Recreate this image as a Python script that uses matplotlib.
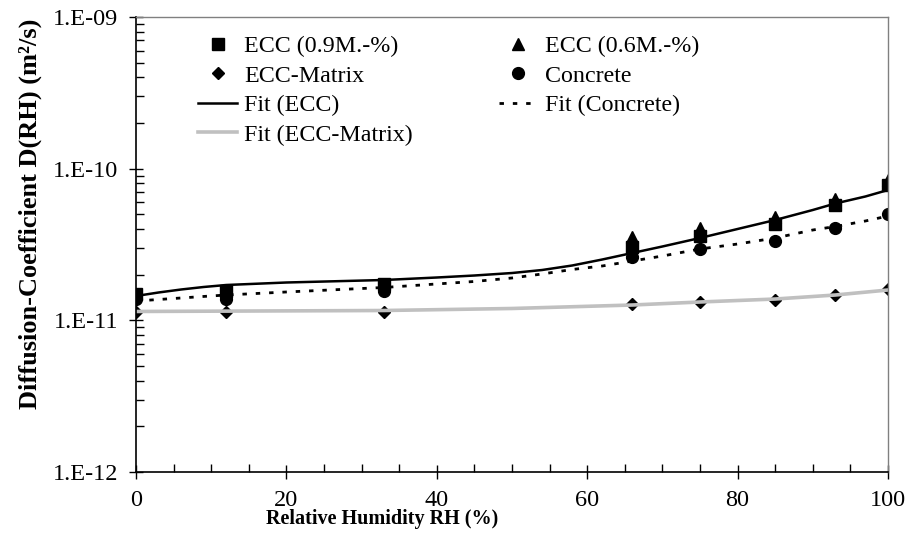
import numpy as np
import matplotlib
matplotlib.use('Agg')
import matplotlib.pyplot as plt
from matplotlib.ticker import FixedLocator, LogLocator, FuncFormatter, NullFormatter

plt.rcParams['font.family'] = ['Liberation Serif', 'DejaVu Serif']

# measured points
rh = [0, 12, 33, 66, 75, 85, 93, 100]
ecc09 = [1.50e-11, 1.56e-11, 1.745e-11, 3.05e-11, 3.6e-11, 4.3e-11, 5.76e-11, 7.8e-11]
rh_ecc06 = [66, 75, 85, 93, 100]
ecc06 = [3.55e-11, 4.06e-11, 4.8e-11, 6.3e-11, 8.4e-11]
matrix = [1.14e-11, 1.13e-11, 1.14e-11, 1.28e-11, 1.32e-11, 1.36e-11, 1.47e-11, 1.61e-11]
concrete = [1.38e-11, 1.39e-11, 1.57e-11, 2.62e-11, 2.95e-11, 3.33e-11, 4.06e-11, 5.0e-11]

# fit curves
rh_fit = [0, 3, 6, 9, 12, 20, 33, 40, 45, 50, 54, 58, 62, 66, 70, 75, 80, 85, 90, 93, 97, 100]
fit_ecc = [1.447e-11, 1.526e-11, 1.597e-11, 1.659e-11, 1.710e-11, 1.776e-11, 1.845e-11,
           1.916e-11, 1.975e-11, 2.051e-11, 2.147e-11, 2.299e-11, 2.518e-11, 2.78e-11,
           3.068e-11, 3.491e-11, 4.002e-11, 4.587e-11, 5.34e-11, 5.895e-11, 6.556e-11, 7.233e-11]
fit_conc = [1.341e-11, 1.372e-11, 1.404e-11, 1.437e-11, 1.469e-11, 1.538e-11, 1.647e-11,
            1.737e-11, 1.804e-11, 1.902e-11, 2.021e-11, 2.164e-11, 2.282e-11, 2.461e-11,
            2.655e-11, 2.954e-11, 3.186e-11, 3.491e-11, 3.941e-11, 4.156e-11, 4.519e-11, 4.873e-11]
rh_fit_m = [0, 33, 50, 66, 75, 85, 93, 100]
fit_matrix = [1.144e-11, 1.161e-11, 1.197e-11, 1.262e-11, 1.321e-11, 1.382e-11, 1.469e-11, 1.585e-11]

fig = plt.figure(figsize=(9.11, 5.40), dpi=100)
ax = fig.add_axes([136/911, 1-472/540, 752/911, 455/540])

m_sq, = ax.plot(rh, ecc09, 's', color='black', ms=8, ls='none', label='ECC (0.9M.-%)')
m_tri, = ax.plot(rh_ecc06, ecc06, '^', color='black', ms=9, ls='none', label='ECC (0.6M.-%)')
m_dia, = ax.plot(rh, matrix, 'D', color='black', ms=6, ls='none', label='ECC-Matrix')
m_cir, = ax.plot(rh, concrete, 'o', color='black', ms=8.5, ls='none', label='Concrete')

l_ecc, = ax.plot(rh_fit, fit_ecc, '-', color='black', lw=1.8, label='Fit (ECC)')
l_conc, = ax.plot(rh_fit, fit_conc, color='black', lw=2, dashes=(1.6, 3.2), label='Fit (Concrete)')
l_mat, = ax.plot(rh_fit_m, fit_matrix, '-', color='#c0c0c0', lw=2.6, label='Fit (ECC-Matrix)')

ax.set_yscale('log')
ax.set_xlim(0, 100)
ax.set_ylim(1e-12, 1e-9)

ax.xaxis.set_major_locator(FixedLocator([0, 20, 40, 60, 80, 100]))
ax.xaxis.set_minor_locator(FixedLocator(np.arange(0, 101, 5)))
ax.yaxis.set_major_locator(LogLocator(base=10, numticks=10))
ax.yaxis.set_minor_locator(LogLocator(base=10, subs=np.arange(2, 10), numticks=10))
ax.yaxis.set_minor_formatter(NullFormatter())
ax.yaxis.set_major_formatter(FuncFormatter(lambda v, p: '1.E%03d' % int(round(np.log10(v)))))

ax.tick_params(axis='both', which='major', direction='inout', length=10, width=1,
               labelsize=17.5, colors='black')
ax.tick_params(axis='both', which='minor', direction='in', length=6, width=1)
ax.tick_params(axis='x', which='major', pad=8)
ax.tick_params(axis='y', which='major', pad=8)

for s in ['left', 'bottom']:
    ax.spines[s].set_color('black')
    ax.spines[s].set_linewidth(1.2)
for s in ['top', 'right']:
    ax.spines[s].set_color('#808080')
    ax.spines[s].set_linewidth(1)

ax.set_xlabel('Relative Humidity RH (%)', fontsize=14.5, fontweight='bold')
ax.xaxis.set_label_coords(0.327, -0.082)
ax.set_ylabel('Diffusion-Coefficient D(RH) (m\u00b2/s)', fontsize=19, fontweight='bold')
ax.yaxis.set_label_coords(-0.125, 0.567)

handles = [m_sq, m_dia, l_ecc, l_mat, m_tri, m_cir, l_conc]
ax.legend(handles=handles, ncol=2, loc='upper left', bbox_to_anchor=(0.083, 0.96),
          frameon=False, fontsize=17.3, handlelength=1.6, handletextpad=0.3,
          labelspacing=0.32, columnspacing=3.6, borderpad=0, borderaxespad=0)

fig.savefig('out.png', dpi=100)
